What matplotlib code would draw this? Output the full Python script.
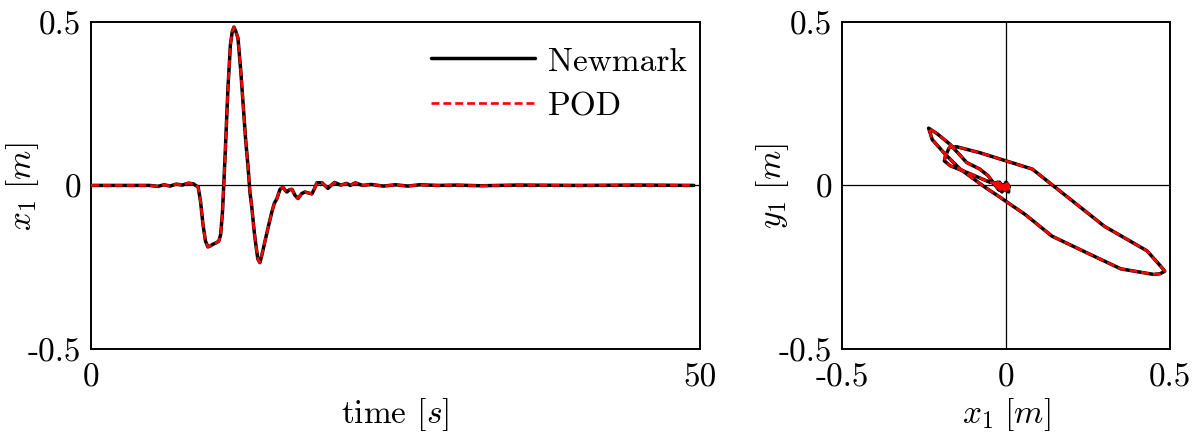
import matplotlib
matplotlib.use("Agg")
import matplotlib.pyplot as plt
from matplotlib.ticker import FixedLocator, FixedFormatter

plt.rcParams['font.family'] = ['cmr10', 'DejaVu Serif']
plt.rcParams['mathtext.fontset'] = 'cm'
plt.rcParams['axes.formatter.use_mathtext'] = True

# ---- data ----
time = [0.0, 4.8, 5.5, 6.0, 6.5, 7.0, 7.5, 8.0, 8.4, 8.8, 9.0, 9.2, 9.4, 9.6, 9.8,
        10.0, 10.3, 10.5, 10.65, 10.8, 11.0, 11.25, 11.45, 11.6, 11.74, 11.9, 12.07,
        12.3, 12.48, 12.7, 12.89, 13.05, 13.2, 13.4, 13.55, 13.7, 13.87, 14.05, 14.29,
        14.6, 14.86, 15.05, 15.27, 15.52, 15.76, 15.95, 16.09, 16.3, 16.5, 16.75, 17.0,
        17.3, 17.57, 17.85, 18.14, 18.35, 18.55, 18.97, 19.2, 19.46, 19.7, 20.0, 20.5,
        21.0, 21.3, 21.7, 22.3, 23.0, 24.0, 25.0, 26.0, 27.0, 28.5, 30.0, 32.0, 35.0,
        40.0, 45.0, 49.5]

newmark_x1 = [0.0, 0.0, -0.003, 0.002, -0.002, 0.004, 0.001, 0.007, 0.005, -0.005, -0.05,
              -0.12, -0.17, -0.188, -0.185, -0.18, -0.175, -0.17, -0.15, -0.08, 0.08, 0.30,
              0.43, 0.47, 0.484, 0.47, 0.45, 0.35, 0.255, 0.14, 0.06, -0.02, -0.065, -0.14,
              -0.185, -0.225, -0.236, -0.21, -0.17, -0.12, -0.08, -0.055, -0.04, -0.012,
              -0.005, -0.015, -0.02, -0.013, -0.012, -0.03, -0.04, -0.025, -0.02, -0.023,
              -0.026, -0.01, 0.008, 0.008, 0.0, -0.009, 0.0, 0.009, 0.001, 0.006, 0.0, 0.008,
              0.0, 0.003, -0.002, 0.002, -0.002, 0.002, 0.0, 0.001, -0.001, 0.001, 0.0, 0.001,
              0.0]

newmark_y1 = [0.0, 0.0, 0.002, -0.002, 0.002, -0.003, 0.002, -0.004, 0.0, 0.0, 0.01,
              0.04, 0.06, 0.075, 0.09, 0.10, 0.112, 0.118, 0.118, 0.10, 0.05, -0.125,
              -0.20, -0.245, -0.262, -0.27, -0.272, -0.255, -0.21, -0.155, -0.09, -0.035,
              -0.005, 0.05, 0.095, 0.14, 0.175, 0.158, 0.125, 0.07, 0.05, 0.03, 0.01,
              -0.005, -0.015, 0.0, 0.01, -0.01, -0.02, 0.0, 0.01, -0.01, -0.015, 0.005,
              0.01, -0.01, -0.02, 0.0, 0.01, -0.005, -0.01, -0.005, 0.005, -0.004, 0.004,
              -0.003, 0.002, -0.002, 0.001, -0.001, 0.001, 0.0, 0.0, 0.0, 0.0, 0.0, 0.0,
              0.0, 0.0]

pod_x1 = list(newmark_x1)
pod_y1 = list(newmark_y1)

left_xticks = [0, 50]
left_xticklabels = ["0", "50"]
yticks = [-0.5, 0, 0.5]
yticklabels = ["-0.5", "0", "0.5"]
right_xticks = [-0.5, 0, 0.5]
right_xticklabels = ["-0.5", "0", "0.5"]

# ---- figure ----
fig = plt.figure(figsize=(12, 4.39), dpi=100)
ax1 = fig.add_axes([0.0758, 0.2027, 0.5075, 0.7453])
ax2 = fig.add_axes([0.7017, 0.2027, 0.2733, 0.7453])

fs = 24
newmark_kw = dict(color='black', lw=2.5, solid_capstyle='round', solid_joinstyle='round')
pod_kw = dict(color='#ff0000', lw=1.9, linestyle=(0, (3.0, 1.5)))

ax1.axhline(0, color='black', lw=0.9, zorder=1)
ax1.plot(time, newmark_x1, label='Newmark', zorder=2, **newmark_kw)
ax1.plot(time, pod_x1, label='POD', zorder=3, **pod_kw)
ax1.set_xlim(0, 50)
ax1.set_ylim(-0.5, 0.5)
ax1.xaxis.set_major_locator(FixedLocator(left_xticks))
ax1.xaxis.set_major_formatter(FixedFormatter(left_xticklabels))
ax1.set_xlabel(r'time $[s]$', fontsize=fs, labelpad=2)
ax1.set_ylabel(r'$x_1\ [m]$', fontsize=fs)
ax1.yaxis.set_label_coords(-0.082, 0.5)
leg = ax1.legend(loc='upper right', frameon=False, fontsize=fs, handlelength=3.1,
                 handletextpad=0.4, labelspacing=0.45, borderaxespad=0.1,
                 bbox_to_anchor=(1.006, 0.975))

ax2.axhline(0, color='black', lw=0.9, zorder=1)
ax2.axvline(0, color='black', lw=0.9, zorder=1)
ax2.plot(newmark_x1, newmark_y1, zorder=2, **newmark_kw)
ax2.plot(pod_x1, pod_y1, zorder=3, **pod_kw)
ax2.set_xlim(-0.5, 0.5)
ax2.set_ylim(-0.5, 0.5)
ax2.xaxis.set_major_locator(FixedLocator(right_xticks))
ax2.xaxis.set_major_formatter(FixedFormatter(right_xticklabels))
ax2.set_xlabel(r'$x_1\ [m]$', fontsize=fs, labelpad=2)
ax2.set_ylabel(r'$y_1\ [m]$', fontsize=fs)
ax2.yaxis.set_label_coords(-0.155, 0.5)

for ax in (ax1, ax2):
    ax.yaxis.set_major_locator(FixedLocator(yticks))
    ax.yaxis.set_major_formatter(FixedFormatter(yticklabels))
    ax.tick_params(length=0, labelsize=fs)
    ax.tick_params(axis='y', pad=7)
    ax.tick_params(axis='x', pad=10)
    for sp in ax.spines.values():
        sp.set_linewidth(1.4)

fig.savefig('out.png', dpi=100)
